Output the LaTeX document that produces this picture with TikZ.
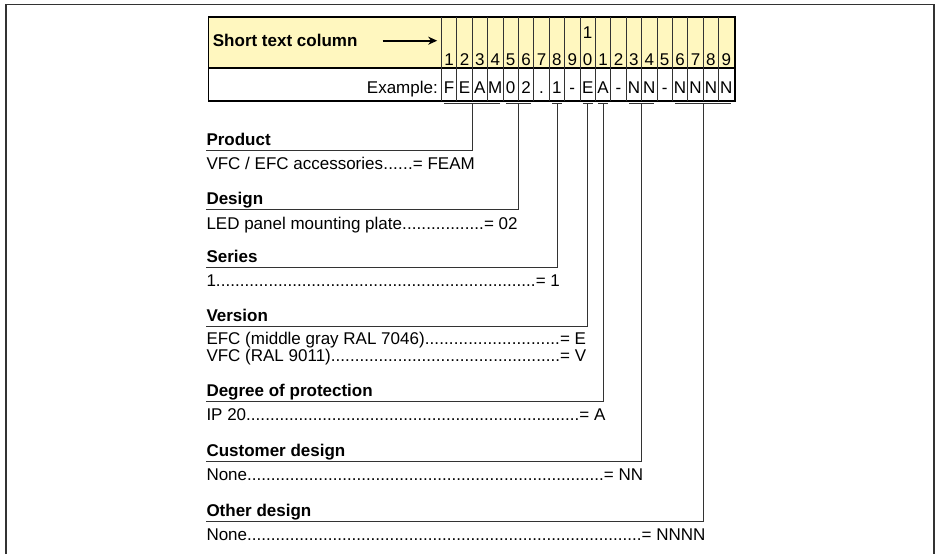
\documentclass[tikz,border=0pt]{standalone}
\usepackage{fontspec}
\setmainfont{Liberation Sans}
\usetikzlibrary{arrows.meta,positioning,calc}
\definecolor{hdrfill}{HTML}{FFF7BF}
\definecolor{rulegray}{HTML}{333333}

\newcommand{\leaderline}[3]{\makebox[#1][l]{#2\xleaders\hbox{.}\hfill= #3}}

\begin{document}
\begin{tikzpicture}[x=1pt, y=1pt, font=\fontsize{17}{17}\selectfont,
    >={Stealth[length=9pt, width=8pt]}, node distance=9pt,
    tablebox/.style={draw=black, line width=1pt, anchor=north west, inner sep=0pt, minimum width=526pt},
    digit/.style={anchor=base, inner sep=0pt, minimum width=15.4pt, text height=12pt, text depth=1.6pt},
    code/.style={anchor=base, inner sep=0pt, minimum width=15.4pt, text height=12pt, text depth=6pt},
    colrule/.style={draw=rulegray, line width=0.6pt},
    bar/.style={draw=rulegray, line width=0.8pt},
    stem/.style={draw=rulegray, line width=0.8pt},
    head/.style={font=\fontsize{17}{17}\selectfont\bfseries, anchor=south west, inner sep=0pt, text depth=4.8pt},
    entry/.style={anchor=north west, inner sep=0pt, text height=10pt, text depth=4pt}]
  \useasboundingbox (0,0) rectangle (939,-554);

  % outer frame, open at the bottom
  \draw[black!80, line width=1.6pt] (6,-554) -- (6,-4.3) -- (934,-4.3) -- (934,-554);

  % short text table
  \node[tablebox, fill=hdrfill, minimum height=50.6pt] (hdr) at (208,-16.7) {};
  \node[tablebox, minimum height=32pt] (exrow) at (hdr.south west) {};
  \node[font=\fontsize{17}{17}\selectfont\bfseries, anchor=base west, inner sep=0pt] (title) at (212.7,-46.8) {Short text column};
  \coordinate (arr) at (382.7,-40.7);
  \node[anchor=base east, inner sep=0pt] (example) at (438,-93.3) {Example:};

  \foreach \ch [count=\i] in {F,E,A,M,0,2,.,1,-,E,A,-,N,N,-,N,N,N,N} {
    \pgfmathtruncatemacro{\dg}{mod(\i,10)}
    \node[digit] (d\i) at ({441.4+15.4*(\i-0.5)},-65.7) {\dg};
    \node[code] (c\i) at ({441.4+15.4*(\i-0.5)},-93.3) {\ch};
    \draw[colrule] (d\i.west |- hdr.north) -- (d\i.west |- exrow.south);
  }
  \node[digit] (ten) at ($(d10.base)+(0,27.4)$) {1};
  \draw[tablebox] (hdr.north west) rectangle (exrow.south east);
  \draw[->, line width=1.6pt, shorten >=4pt] (arr) -- (arr -| d1.west);

  % explanation blocks
  \node[head] (product) at (206.3,-150.2) {Product};
  \node[entry, below=of product.south west, anchor=north west] (product1) {\leaderline{268.3pt}{VFC / EFC accessories}{FEAM}};

  \node[head] (design) at (206.3,-209.8) {Design};
  \node[entry, below=of design.south west, anchor=north west] (design1) {\leaderline{311.1pt}{LED panel mounting plate}{02}};

  \node[head] (series) at (206.3,-267.4) {Series};
  \node[entry, below=of series.south west, anchor=north west] (series1) {\leaderline{353.2pt}{1}{1}};

  \node[head] (version) at (206.3,-326.6) {Version};
  \node[entry, below=8pt of version.south west, anchor=north west] (version1) {\leaderline{379.5pt}{EFC (middle gray RAL 7046)}{E}};
  \node[entry, below=2pt of version1.south west, anchor=north west] (version2) {\leaderline{379.5pt}{VFC (RAL 9011)}{V}};

  \node[head] (degree) at (206.3,-401.7) {Degree of protection};
  \node[entry, below=of degree.south west, anchor=north west] (degree1) {\leaderline{398.7pt}{IP 20}{A}};

  \node[head] (customer) at (206.3,-461.4) {Customer design};
  \node[entry, below=of customer.south west, anchor=north west] (customer1) {\leaderline{436.4pt}{None}{NN}};

  \node[head] (other) at (206.3,-521.4) {Other design};
  \node[entry, below=of other.south west, anchor=north west] (other1) {\leaderline{498.7pt}{None}{NNNN}};

  % brackets under the code and their leads
  \foreach \a/\b/\m/\h in {c1/c4/c2.south east/product, c5/c6/c5.south east/design,
      c8/c8/c8.south/series, c10/c10/c10.south/version, c11/c11/c11.south/degree,
      c13/c14/c13.south east/customer, c16/c19/c17.south east/other} {
    \draw[bar] ($(\a.south west)+(3,-4)$) -- ($(\b.south east)+(-3,-4)$);
    \draw[stem] ($(\m)+(0,-4)$) |- (\h.south west);
  }
\end{tikzpicture}
\end{document}
